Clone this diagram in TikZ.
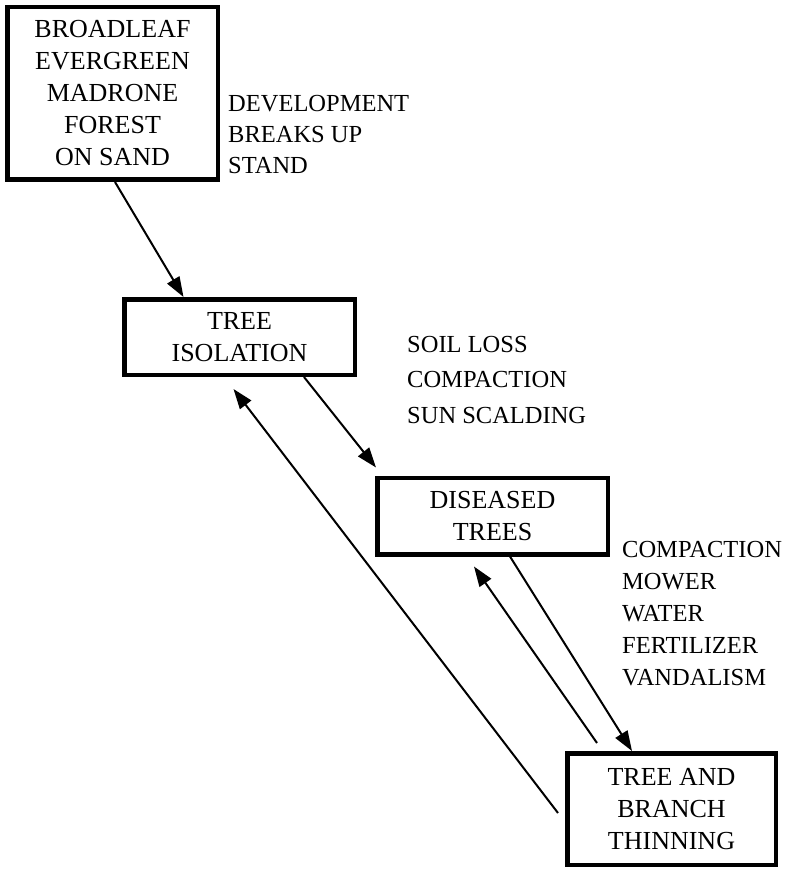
\documentclass[tikz,border=0pt]{standalone}
\usepackage{fontspec}
\setmainfont{Liberation Serif}
\usepackage{tikz}
\usetikzlibrary{arrows.meta}

\begin{document}
\begin{tikzpicture}[x=1pt, y=-1pt,
                stage/.style={draw, line width=4.5pt, align=center, inner sep=0pt,
                              font=\fontsize{26}{32}\selectfont},
                cause/.style={anchor=base west, align=left, inner sep=0pt},
                arr/.style={line width=2pt, -{Triangle[length=20pt, width=14pt]}}]
                \useasboundingbox (0,0) rectangle (790,869);

                \node[stage, minimum width=210.5, minimum height=172.5] (forest) at (112.5, 93.5) {BROADLEAF\\EVERGREEN\\MADRONE\\FOREST\\ON SAND};
                \node[stage, minimum width=230.5, minimum height=75.5] (iso) at (239.5, 337) {TREE\\ISOLATION};
                \node[stage, minimum width=230.5, minimum height=76.5] (dis) at (492.5, 516) {DISEASED\\TREES};
                \node[stage, minimum width=208.5, minimum height=111.5] (thin) at (671.5, 809) {TREE AND\\BRANCH\\THINNING};

                \node[cause, font=\fontsize{24.5}{31}\selectfont] (dev) at (228, 173) {DEVELOPMENT\\BREAKS UP\\STAND};
                \node[cause, font=\fontsize{24.5}{35.5}\selectfont] (soil) at (407, 423) {SOIL LOSS\\COMPACTION\\SUN SCALDING};
                \node[cause, font=\fontsize{24.5}{32}\selectfont] (mow) at (622, 685) {COMPACTION\\MOWER\\WATER\\FERTILIZER\\VANDALISM};

                \draw[arr] ([xshift=2.5]forest.south) -- ([xshift=-56]iso.north);
                \draw[arr] ([xshift=64.5]iso.south) -- ([xshift=1, yshift=8]dis.north west);
                \draw[arr] ([xshift=17.5]dis.south) -- ([xshift=-39.5]thin.north);
                \draw[arr] ([xshift=-74.5, yshift=8]thin.north) -- ([xshift=-18.5, yshift=-10]dis.south);
                \draw[arr] ([xshift=-7, yshift=-4]thin.west) -- ([xshift=-6, yshift=-12]iso.south);
            \end{tikzpicture}
\end{document}
